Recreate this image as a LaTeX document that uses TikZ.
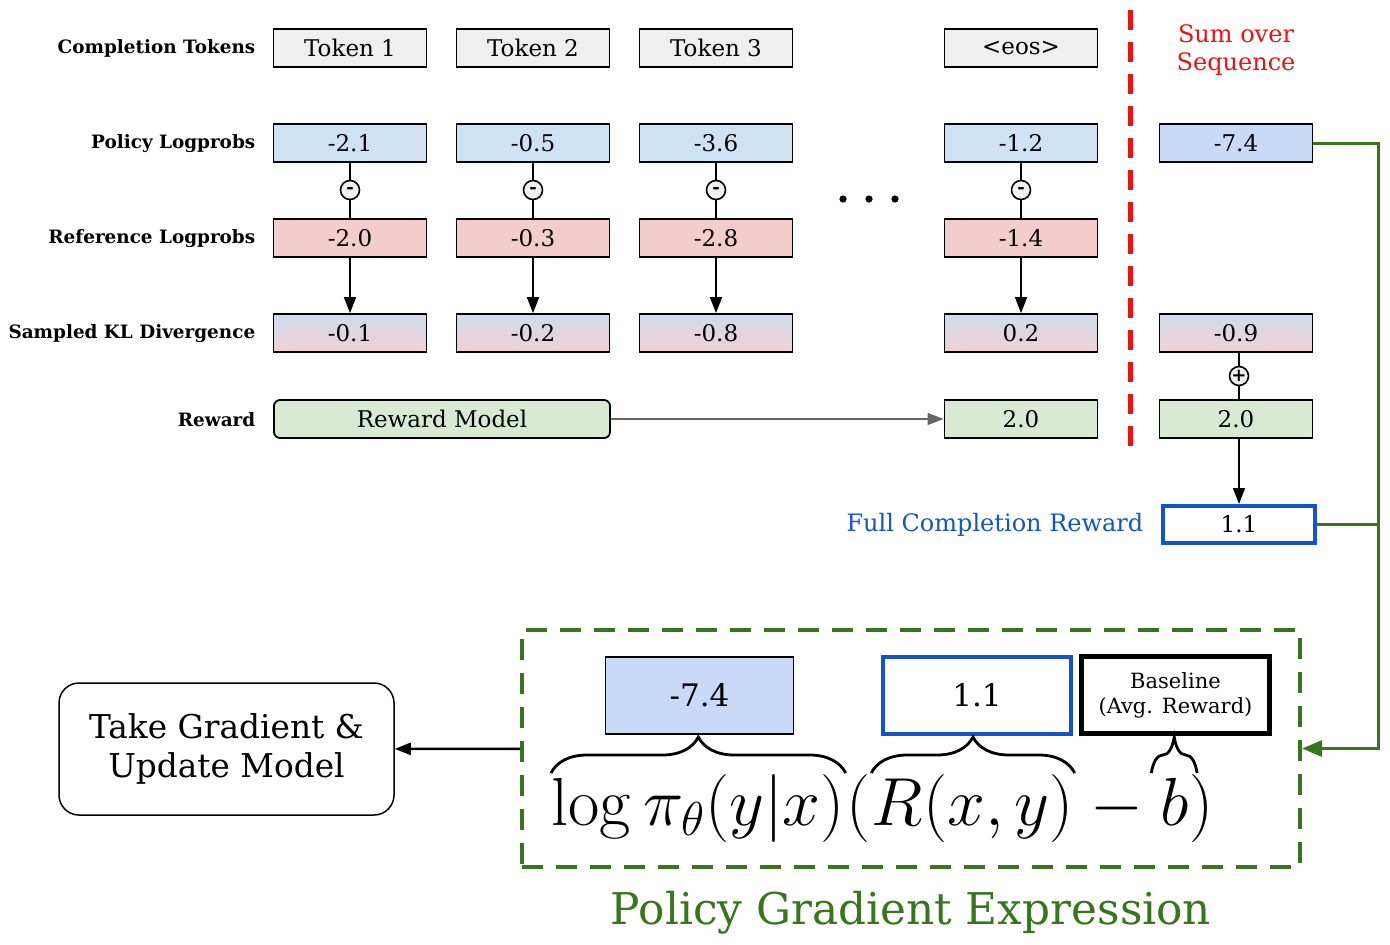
\RequirePackage{fix-cm}
\documentclass[tikz,border=0pt]{standalone}
\usepackage[no-math]{fontspec}
\setmainfont{DejaVu Serif}
\usetikzlibrary{arrows.meta, positioning, calc, decorations.pathreplacing}

\definecolor{tokgray}{HTML}{EFEFEF}
\definecolor{polblue}{HTML}{CFE2F3}
\definecolor{refred}{HTML}{F4CCCC}
\definecolor{klblue}{HTML}{CFDCEC}
\definecolor{klpink}{HTML}{F2CFD4}
\definecolor{rewgreen}{HTML}{D9EAD3}
\definecolor{sumblue}{HTML}{C9DAF8}
\definecolor{fullblue}{HTML}{1155CC}
\definecolor{pgreen}{HTML}{38761D}
\definecolor{sumred}{HTML}{EE1111}

\tikzset{
  >={Triangle[length=8pt,width=6pt]}, % filled arrow heads
  cell/.style={draw, line width=0.9pt, minimum width=76.5pt,
    minimum height=19pt, inner sep=0pt,
    font=\fontsize{11.5}{13}\selectfont}, % every value box
  tokcell/.style={cell, fill=tokgray},
  polcell/.style={cell, fill=polblue},
  refcell/.style={cell, fill=refred},
  klcell/.style={cell, top color=klblue, bottom color=klpink},
  rewcell/.style={cell, fill=rewgreen},
  opcirc/.style={draw, circle, fill=tokgray, inner sep=0pt,
    minimum size=9.5pt, line width=0.8pt,
    font=\bfseries\fontsize{9}{9}\selectfont}, % the - and + signs
  rowlabel/.style={anchor=east, inner xsep=0pt,
    font=\bfseries\fontsize{9.2}{11}\selectfont},
  bigcell/.style={draw, minimum width=94pt, minimum height=38.5pt,
    inner sep=0pt, font=\fontsize{15.5}{18}\selectfont},
  formula/.style={anchor=base west, inner sep=0pt,
    font=\fontsize{34}{40}\selectfont},
  brace/.style={decorate, line width=1.4pt,
    decoration={brace, amplitude=18pt, aspect=0.5}},
  greenline/.style={draw=pgreen, line width=1.5pt,
    -{Triangle[length=10pt,width=8pt]}},
}

\begin{document}
\begin{tikzpicture}[x=0.5pt, y=-0.5pt, line width=0.75pt]
  \useasboundingbox (0,0) rectangle (1390,944);

  % row labels
  \node[rowlabel] (lab_tok) at (256,48) {Completion Tokens};
  \node[rowlabel] (lab_pol) at (256,144) {Policy Logprobs};
  \node[rowlabel] (lab_ref) at (256,239) {Reference Logprobs};
  \node[rowlabel] (lab_kl) at (256,334) {Sampled KL Divergence};
  \node[rowlabel] (lab_rew) at (256,420) {Reward};

  % one column per token
  \foreach \x/\t/\p/\r/\k [count=\i] in {350/Token 1/-2.1/-2.0/-0.1,
      533/Token 2/-0.5/-0.3/-0.2, 716/Token 3/-3.6/-2.8/-0.8,
      1021/<eos>/-1.2/-1.4/0.2} {
    \node[tokcell] (tok_\i) at (\x,48) {\t};
    \node[polcell] (pol_\i) at (\x,143) {\p};
    \node[refcell] (ref_\i) at (\x,238) {\r};
    \node[klcell] (kl_\i) at (\x,333) {\k};
    \node[opcirc] (minus_\i) at (\x,190) {-};
    \draw (pol_\i) -- (minus_\i) -- (ref_\i);
    \draw[->] (ref_\i) -- (kl_\i);
  }
  \foreach \dx in {-26,0,26}
    \fill (869+\dx,199) circle (1.8pt);

  % reward
  \node[rewcell, rounded corners=3pt, minimum width=168pt] (rm) at (442,419) {Reward Model};
  \node[rewcell] (rew_4) at (1021,419) {2.0};
  \draw[->, draw=black!60, fill=black!60, line width=0.6pt] (rm) -- (rew_4);

  % sum over sequence
  \draw[sumred, line width=2.5pt, dash pattern=on 10pt off 6pt] (1130,10) -- (1130,446);
  \node[text=sumred, align=center, font=\fontsize{12}{14}\selectfont] (sumtitle) at (1236,50) {Sum over\\Sequence};
  \node[cell, fill=sumblue] (sum_pol) at (1236,143) {-7.4};
  \node[klcell] (sum_kl) at (1236,333) {-0.9};
  \node[rewcell] (sum_rew) at (1236,419) {2.0};
  \node[cell, draw=fullblue, line width=2pt, minimum width=76pt, minimum height=18.5pt] (full) at (1239,524.5) {1.1};
  \node[opcirc] (plus) at (1239,376) {+};
  \draw (sum_kl.south -| plus) -- (plus) -- (sum_rew.north -| plus);
  \node[anchor=east, inner xsep=0pt, text=fullblue, font=\fontsize{12}{14}\selectfont] (fulltitle) at (1144,525) {Full Completion Reward};
  \draw[->] (sum_rew.south -| full) -- (full);

  % policy gradient expression
  \node[draw=pgreen, line width=2pt, dash pattern=on 10.5pt off 6.5pt,
    minimum width=389pt, minimum height=118.5pt] (pgexpr) at (911,748.5) {};
  \node[text=pgreen, font=\fontsize{21.9}{26}\selectfont] (pgtitle) at (911,913) {Policy Gradient Expression};
  \node[bigcell, fill=sumblue, line width=0.8pt] (logv) at (699.5,695.5) {-7.4};
  \node[bigcell, draw=fullblue, line width=2pt] (rewv) at (977,695.5) {1.1};
  \node[bigcell, line width=2.5pt, align=center, font=\fontsize{10.5}{12.5}\selectfont] (basev) at (1175.5,695) {Baseline\\(Avg. Reward)};

  \node[formula] (f_log) at (551,825) {$\log\pi_\theta(y|x)$};
  \node[formula] (f_open) at (f_log.base east) {$($};
  \node[formula] (f_rew) at (f_open.base east) {$R(x,y)$};
  \node[formula] (f_minus) at (f_rew.base east) {$\mskip\medmuskip-\mskip\medmuskip$};
  \node[formula] (f_b) at (f_minus.base east) {$b$};
  \node[formula] (f_close) at (f_b.base east) {$)$};
  \draw[brace] (f_log.west |- 0,773) -- (f_log.east |- 0,773);
  \draw[brace] (f_rew.west |- 0,773) -- (f_rew.east |- 0,773);
  \draw[brace] ([xshift=-4pt]f_b.west |- 0,773) -- ([xshift=4pt]f_b.east |- 0,773);

  \coordinate (gline) at (1378,748.5);
  \draw[greenline] (sum_pol.east) -| (gline) -- (pgexpr.east);
  \draw[draw=pgreen, line width=1.5pt] (full.east) -- (full.east -| gline);

  % final step
  \node[draw, rounded corners=10pt, minimum width=167.5pt, minimum height=66pt,
    align=center, font=\fontsize{16.4}{19.5}\selectfont] (take) at (226.5,749) {Take Gradient \&\\Update Model};
  \draw[->, line width=1.2pt] (pgexpr) -- (take);
\end{tikzpicture}
\end{document}
